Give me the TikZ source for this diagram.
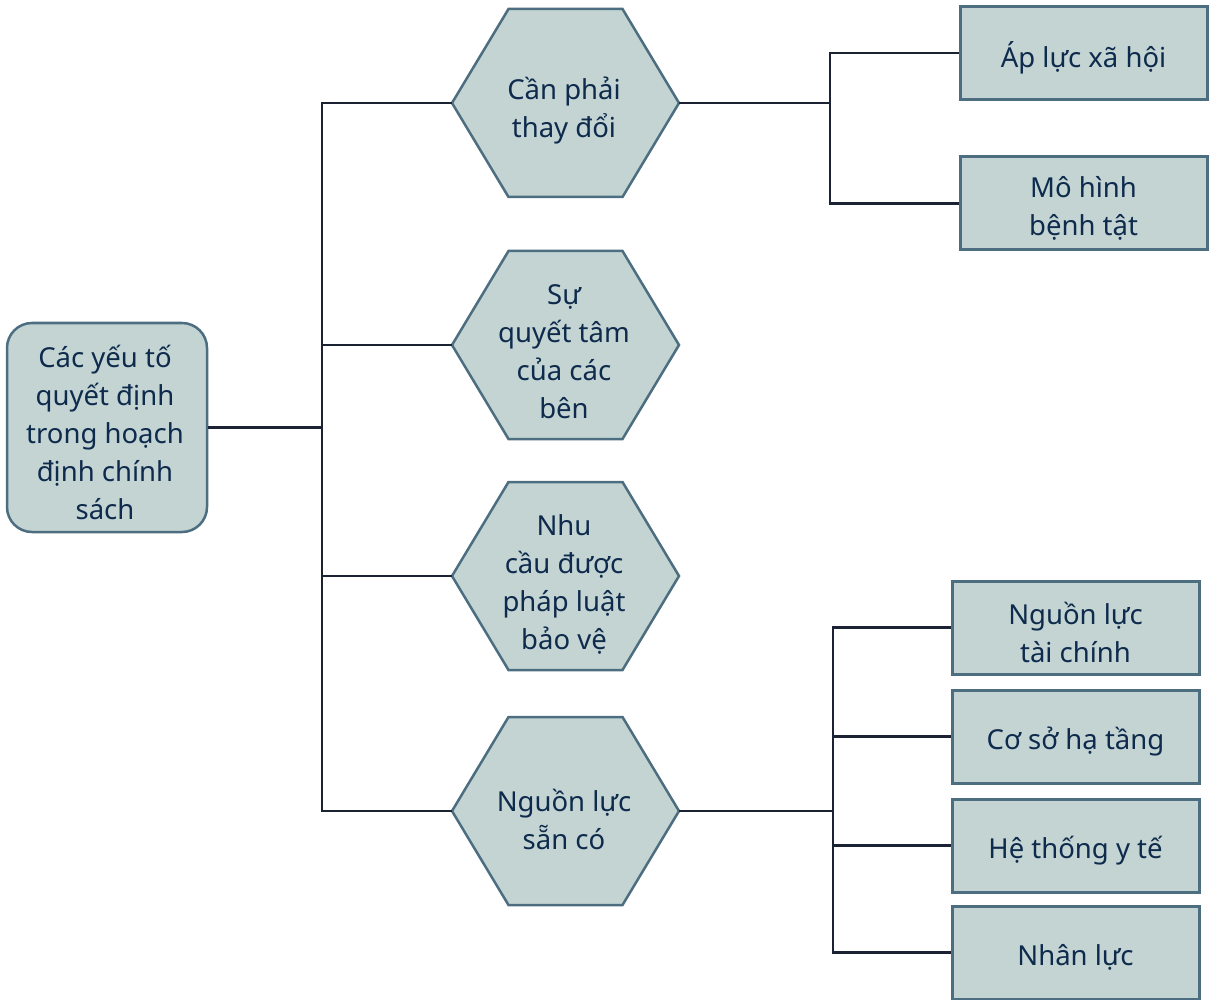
\documentclass[tikz,border=0pt]{standalone}
\usepackage{fontspec}
\setmainfont{Noto Sans}
\definecolor{boxfill}{HTML}{C3D4D3}
\definecolor{boxline}{HTML}{4C6E80}
\definecolor{wirecol}{HTML}{1B2233}
\definecolor{ink}{HTML}{0E2A4C}

\begin{document}
\begin{tikzpicture}[x=1pt,y=-1pt,
  txt/.style={text=ink, align=center, font=\fontsize{27.5}{38}\selectfont, inner sep=0pt},
  leaf/.style={draw=boxline, fill=boxfill, line width=3pt, minimum width=247pt, minimum height=93pt, inner sep=0pt},
  rootbox/.style={draw=boxline, fill=boxfill, line width=2.5pt, rounded corners=25pt, minimum width=200pt, minimum height=209pt, inner sep=0pt},
  hexa/.style={draw=boxline, fill=boxfill, line width=2.5pt, line join=miter},
  wire/.style={draw=wirecol, line width=2.5pt}]

\useasboundingbox (0,0) rectangle (1210,1000);

% hexagons of the second level, with their left and right tips
\foreach \n/\cy in {h1/103, h2/345, h3/576, h4/811} {
  \draw[hexa] (452,\cy) -- ++(56.5,-94) -- ++(114,0) -- ++(56.5,94)
              -- ++(-56.5,94) -- ++(-114,0) -- cycle;
  \coordinate (\n w) at (452,\cy);
  \coordinate (\n e) at (679,\cy);
}

\node[txt] (t1) at (564,111) {Cần phải\\thay đổi};
\node[txt] (t2) at (564,352) {Sự\\quyết tâm\\của các\\bên};
\node[txt] (t3) at (564,584) {Nhu\\cầu được\\pháp luật\\bảo vệ};
\node[txt] (t4) at (564,819) {Nguồn lực\\sẵn có};

% root
\node[rootbox] (root) at (107,427.5) {};
\node[txt] (roottext) at (105,432) {Các yếu tố\\quyết định\\trong hoạch\\định chính\\sách};

% leaves: boxes, then their texts set a little below centre
\node[leaf] (a1) at (1083.5,53) {};
\node[leaf] (a2) at (1083.5,203.5) {};
\node[leaf] (b1) at (1075.5,627.5) {};
\node[leaf] (b2) at (1075.5,736.5) {};
\node[leaf] (b3) at (1075.5,845.5) {};
\node[leaf] (b4) at (1075.5,952.5) {};
\node[txt] (a1t) at ([yshift=-5pt]a1.center) {Áp lực xã hội};
\node[txt] (a2t) at ([yshift=-5pt]a2.center) {Mô hình\\bệnh tật};
\node[txt] (b1t) at ([yshift=-5pt]b1.center) {Nguồn lực\\tài chính};
\node[txt] (b2t) at ([yshift=-5pt]b2.center) {Cơ sở hạ tầng};
\node[txt] (b3t) at ([yshift=-5pt]b3.center) {Hệ thống y tế};
\node[txt] (b4t) at ([yshift=-5pt]b4.center) {Nhân lực};

% bus lines
\coordinate (busx) at (322,0);
\coordinate (r1x) at (830,0);
\coordinate (r2x) at (833,0);

\draw[wire] (root.east) -- (root.east -| busx);
\draw[wire] (h1w) -- (h1w -| busx) -- (h4w -| busx) -- (h4w);
\draw[wire] (h2w) -- (h2w -| busx);
\draw[wire] (h3w) -- (h3w -| busx);

\draw[wire] (h1e) -- (h1e -| r1x);
\draw[wire] (a1.west) -- (a1.west -| r1x) -- (a2.west -| r1x) -- (a2.west);

\draw[wire] (h4e) -- (h4e -| r2x);
\draw[wire] (b1.west) -- (b1.west -| r2x) -- (b4.west -| r2x) -- (b4.west);
\draw[wire] (b2.west) -- (b2.west -| r2x);
\draw[wire] (b3.west) -- (b3.west -| r2x);
\end{tikzpicture}
\end{document}
